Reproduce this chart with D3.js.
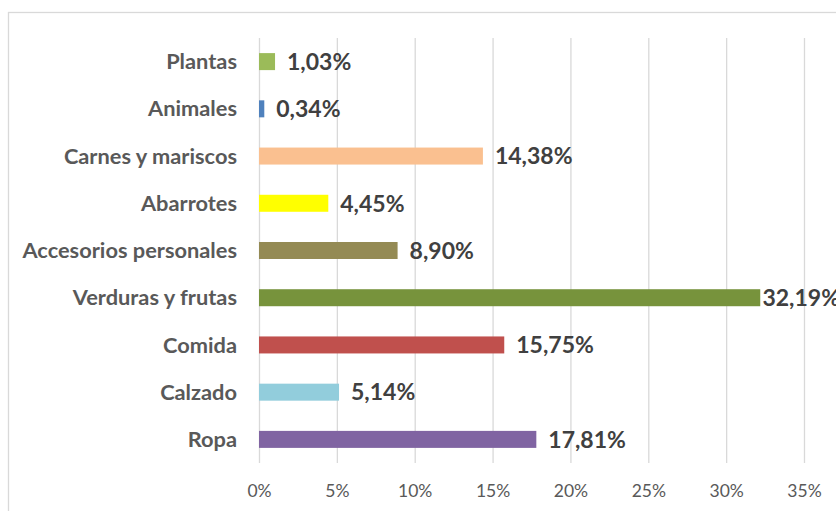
<!DOCTYPE html>
<html>
<head>
<meta charset="utf-8">
<script src="https://cdn.jsdelivr.net/npm/d3@7"></script>
<style>
  html, body { margin: 0; padding: 0; background: #fff; }
  svg { display: block; }
</style>
</head>
<body>
<div id="chart"></div>
<script>
// Categories from top to bottom
const categories = ["Plantas", "Animales", "Carnes y mariscos", "Abarrotes", "Accesorios personales",
                    "Verduras y frutas", "Comida", "Calzado", "Ropa"];
const values = [1.03, 0.34, 14.38, 4.45, 8.90, 32.19, 15.75, 5.14, 17.81];
const barColors = ["#9bbb59", "#4f81bd", "#fac090", "#ffff00", "#948a54",
                   "#77933c", "#c0504d", "#92cddc", "#8064a2"];
const tickValues = [0, 5, 10, 15, 20, 25, 30, 35];

const width = 836, height = 511;
const plot = { left: 259, right: 804, top: 38, bottom: 463 };

const svg = d3.select("#chart")
    .append("svg")
    .attr("width", width)
    .attr("height", height);

// Chart area border (runs off the right and bottom edges)
svg.append("rect")
    .attr("x", 8.5)
    .attr("y", 12.5)
    .attr("width", 900)
    .attr("height", 600)
    .attr("fill", "#fff")
    .attr("stroke", "#d9d9d9")
    .attr("stroke-width", 1.3);

const x = d3.scaleLinear()
    .domain([0, 35])
    .range([plot.left, plot.right]);

const y = d3.scaleBand()
    .domain(categories)
    .range([plot.top, plot.bottom])
    .paddingInner(0.64)
    .paddingOuter(0.32);

// Vertical gridlines + tick labels
const xAxis = d3.axisBottom(x)
    .tickValues(tickValues)
    .tickSize(-(plot.bottom - plot.top))
    .tickFormat(d => d + "%");

const gx = svg.append("g")
    .attr("transform", `translate(0,${plot.bottom})`)
    .call(xAxis);
gx.select(".domain").remove();
gx.selectAll(".tick line")
    .attr("stroke", "#d9d9d9")
    .attr("stroke-width", 1.3);
gx.selectAll(".tick text")
    .attr("y", 28)
    .attr("dy", "0.35em")
    .attr("fill", "#595959")
    .style("font-family", "Lato, 'Open Sans', sans-serif")
    .style("font-size", "17.5px");

// Category labels
svg.append("g")
    .selectAll("text")
    .data(categories)
    .join("text")
    .attr("x", 237)
    .attr("y", d => y(d) + y.bandwidth() / 2)
    .attr("dy", "0.35em")
    .attr("text-anchor", "end")
    .attr("fill", "#595959")
    .style("font-family", "Lato, 'Open Sans', sans-serif")
    .style("font-weight", "bold")
    .style("font-size", "21.8px")
    .text(d => d);

// Bars
svg.append("g")
    .selectAll("rect")
    .data(categories)
    .join("rect")
    .attr("x", x(0))
    .attr("y", d => y(d))
    .attr("width", (d, i) => x(values[i]) - x(0))
    .attr("height", y.bandwidth())
    .attr("fill", (d, i) => barColors[i]);

// Value labels
const fmt = v => v.toFixed(2).replace(".", ",") + "%";
svg.append("g")
    .selectAll("text")
    .data(categories)
    .join("text")
    .attr("y", d => y(d) + y.bandwidth() / 2)
    .attr("dy", "0.36em")
    .attr("fill", "#404040")
    .style("font-family", "Lato, 'Open Sans', sans-serif")
    .style("font-weight", "bold")
    .style("font-size", "23px")
    .text((d, i) => fmt(values[i]))
    .attr("x", function (d, i) {
        const end = x(values[i]);
        const w = this.getComputedTextLength();
        // keep the label inside the frame when the bar is long
        return Math.max(end + 2, Math.min(end + 12, 840 - w));
    });
</script>
</body>
</html>
